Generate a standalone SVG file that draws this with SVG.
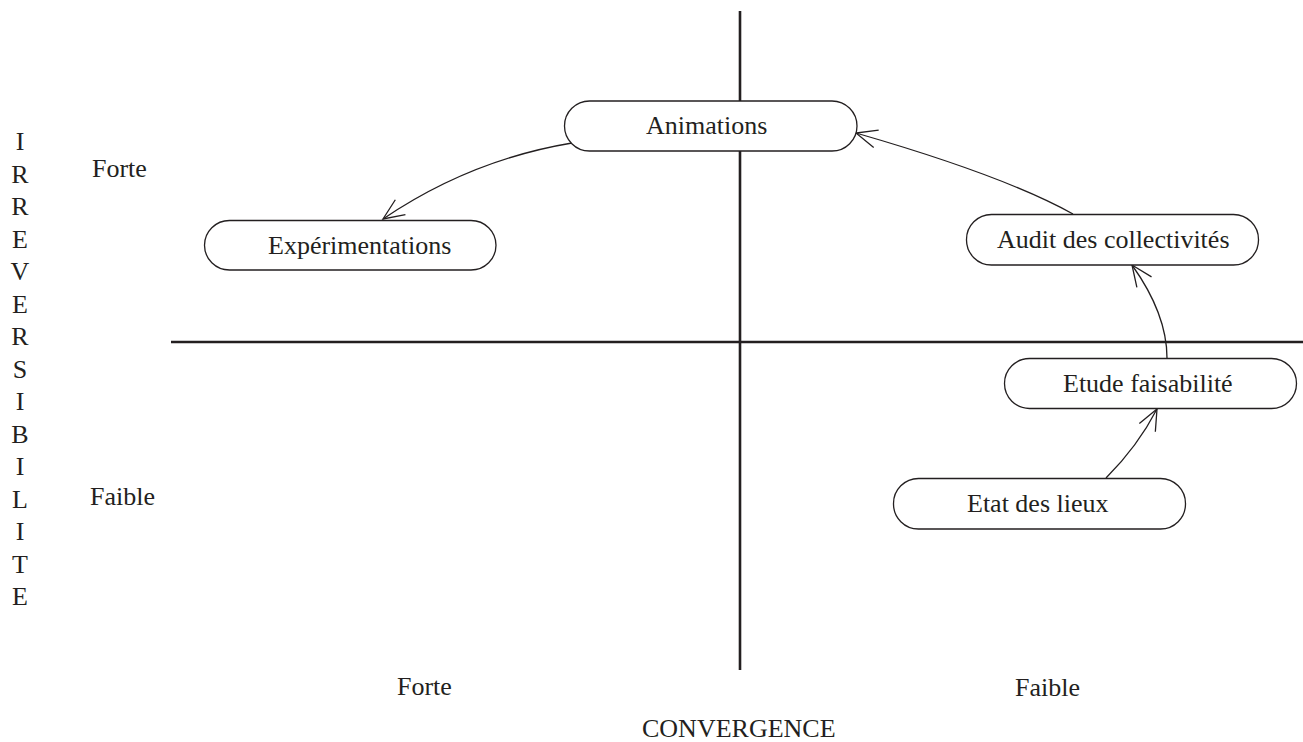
<svg xmlns="http://www.w3.org/2000/svg" width="1303" height="742" viewBox="0 0 1303 742">
<style>
text{font-family:"Liberation Serif","Times New Roman",serif;font-size:26px;fill:#231f20}
.box{fill:#fff;stroke:#231f20;stroke-width:1.3}
.axis{stroke:#231f20;stroke-width:2.6;fill:none}
.conn{stroke:#231f20;stroke-width:1.3;fill:none;marker-end:url(#arr)}
.v{text-anchor:middle}
</style>
<defs>
<marker id="arr" markerUnits="userSpaceOnUse" markerWidth="30" markerHeight="30" refX="0" refY="0" viewBox="-25 -15 30 30" orient="auto" overflow="visible">
<path d="M-21,-9 L0,0 L-21,9" fill="none" stroke="#231f20" stroke-width="1.3"/>
</marker>
</defs>
<g id="axes">
<line class="axis" x1="740" y1="11" x2="740" y2="670"/>
<line class="axis" x1="171" y1="342" x2="1303" y2="342"/>
</g>
<g id="labels">
<text x="92" y="177">Forte</text>
<text x="90" y="505">Faible</text>
<text x="397" y="695">Forte</text>
<text x="1015" y="696">Faible</text>
<text x="642" y="737">CONVERGENCE</text>
<g class="v">
<text x="20" y="150">I</text>
<text x="20" y="182.5">R</text>
<text x="20" y="215">R</text>
<text x="20" y="247.5">E</text>
<text x="20" y="280">V</text>
<text x="20" y="312.5">E</text>
<text x="20" y="345">R</text>
<text x="20" y="377.5">S</text>
<text x="20" y="410">I</text>
<text x="20" y="442.5">B</text>
<text x="20" y="475">I</text>
<text x="20" y="507.5">L</text>
<text x="20" y="540">I</text>
<text x="20" y="572.5">T</text>
<text x="20" y="605">E</text>
</g>
</g>
<g id="connectors">
<path class="conn" d="M572,143 Q470,160 383,219"/>
<path class="conn" d="M1073,214 Q1005,176 856,133"/>
<path class="conn" d="M1167,358 Q1167,314 1132,265"/>
<path class="conn" d="M1106,478 Q1137.7,446.3 1157,409"/>
</g>
<g id="animations">
<rect class="box" x="564.5" y="101" width="292.5" height="50" rx="25"/>
<text x="646" y="134">Animations</text>
</g>
<g id="experimentations">
<rect class="box" x="204.5" y="220.5" width="291.5" height="49.5" rx="25"/>
<text x="268" y="254">Expérimentations</text>
</g>
<g id="audit">
<rect class="box" x="966.5" y="214.5" width="292" height="50.5" rx="25"/>
<text x="997" y="248">Audit des collectivités</text>
</g>
<g id="etude">
<rect class="box" x="1004.5" y="358.5" width="292" height="50" rx="25"/>
<text x="1063" y="392">Etude faisabilité</text>
</g>
<g id="etat">
<rect class="box" x="893.5" y="478.5" width="292" height="50.5" rx="25"/>
<text x="967" y="512">Etat des lieux</text>
</g>
</svg>
